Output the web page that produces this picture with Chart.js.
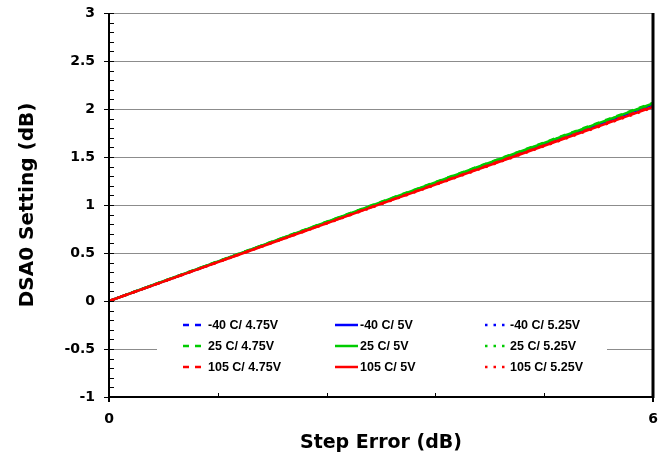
<!DOCTYPE html>
<html><head><meta charset="utf-8">
<script src="https://cdn.jsdelivr.net/npm/chart.js@4.4.1/dist/chart.umd.min.js"></script>
<style>html,body{margin:0;padding:0;background:#fff;}#wrap{width:669px;height:459px;}</style>
</head><body><div id="wrap"><canvas id="c" width="669" height="459"></canvas></div>
<script>
// ---- data ----
const stepError = [0, 0.5, 1, 1.5, 2, 2.5, 3, 3.5, 4, 4.5, 5, 5.5, 6];
const m40_475 = [0, 0.171, 0.341, 0.512, 0.682, 0.853, 1.024, 1.194, 1.365, 1.535, 1.706, 1.877, 2.047];
const m40_500 = [0, 0.170, 0.340, 0.511, 0.681, 0.852, 1.022, 1.192, 1.363, 1.533, 1.703, 1.874, 2.044];
const m40_525 = [0, 0.170, 0.340, 0.510, 0.680, 0.850, 1.020, 1.190, 1.360, 1.530, 1.700, 1.870, 2.040];
const p25_475 = [0, 0.172, 0.344, 0.516, 0.688, 0.860, 1.032, 1.204, 1.376, 1.548, 1.720, 1.892, 2.064];
const p25_500 = [0, 0.172, 0.343, 0.515, 0.686, 0.858, 1.029, 1.201, 1.372, 1.544, 1.715, 1.887, 2.058];
const p25_525 = [0, 0.171, 0.342, 0.514, 0.685, 0.856, 1.027, 1.198, 1.369, 1.541, 1.712, 1.883, 2.054];
const p105_475 = [0, 0.169, 0.338, 0.507, 0.676, 0.845, 1.014, 1.183, 1.352, 1.521, 1.690, 1.859, 2.028];
const p105_500 = [0, 0.168, 0.337, 0.505, 0.674, 0.842, 1.011, 1.179, 1.348, 1.516, 1.685, 1.853, 2.022];
const p105_525 = [0, 0.168, 0.336, 0.504, 0.672, 0.840, 1.008, 1.176, 1.344, 1.512, 1.680, 1.848, 2.016];
const seriesLabels = ['-40 C/ 4.75V', '-40 C/ 5V', '-40 C/ 5.25V',
                      '25 C/ 4.75V', '25 C/ 5V', '25 C/ 5.25V',
                      '105 C/ 4.75V', '105 C/ 5V', '105 C/ 5.25V'];
const xMajorTicks = [0, 6];
const xMinorTicks = [1.2, 2.4, 3.6, 4.8];
const yTickLabels = ['-1', '-0.5', '0', '0.5', '1', '1.5', '2', '2.5', '3'];
const yMinorStep = 0.1;
const xTitle = 'Step Error (dB)';
const yTitle = 'DSA0 Setting (dB)';

// ---- styles ----
const BLUE = '#0000FF', GREEN = '#00CC00', RED = '#FF0000';
const DASH = [6, 6], SOLID = [], DOT = [2.5, 6];
const seriesValues = [m40_475, m40_500, m40_525, p25_475, p25_500, p25_525, p105_475, p105_500, p105_525];
const seriesColors = [BLUE, BLUE, BLUE, GREEN, GREEN, GREEN, RED, RED, RED];
const seriesDash = [DASH, SOLID, DOT, DASH, SOLID, DOT, DASH, SOLID, DOT];
const drawOrder = [8, 7, 9, 5, 4, 6, 2, 1, 3];

const datasets = seriesValues.map((vals, i) => ({
  label: seriesLabels[i],
  data: vals.map((v, j) => ({x: stepError[j], y: v})),
  borderColor: seriesColors[i],
  backgroundColor: seriesColors[i],
  borderDash: seriesDash[i],
  borderWidth: 2.5,
  pointRadius: 0,
  showLine: true,
  fill: false,
  tension: 0,
  order: drawOrder[i]
}));

const CA = {left: 109, right: 653, top: 13, bottom: 397};

const axesPlugin = {
  id: 'axesPlugin',
  afterDatasetsDraw(chart) {
    const ctx = chart.ctx, xs = chart.scales.x, ys = chart.scales.y, a = chart.chartArea;
    ctx.save();
    ctx.strokeStyle = '#000';
    ctx.setLineDash([]);
    ctx.lineWidth = 2;
    ctx.beginPath();
    ctx.moveTo(a.left, a.top); ctx.lineTo(a.left, a.bottom + 1);
    ctx.moveTo(a.left - 1, a.bottom); ctx.lineTo(a.right, a.bottom);
    ctx.stroke();
    ctx.lineWidth = 3;
    ctx.beginPath();
    ctx.moveTo(a.right, a.top); ctx.lineTo(a.right, a.bottom + 1);
    ctx.stroke();
    ctx.lineWidth = 1;
    ctx.beginPath();
    for (let k = 0; k <= Math.round((ys.max - ys.min) / yMinorStep); k++) {
      const v = ys.min + k * yMinorStep;
      const py = Math.round(ys.getPixelForValue(v)) + 0.5;
      const major = k % 5 === 0;
      ctx.moveTo(a.left - (major ? 5 : 0), py);
      ctx.lineTo(a.left + 5, py);
    }
    ctx.stroke();
    ctx.beginPath();
    xMinorTicks.forEach(v => {
      const px = Math.round(xs.getPixelForValue(v)) + 0.5;
      ctx.moveTo(px, a.bottom - 4); ctx.lineTo(px, a.bottom);
    });
    ctx.stroke();
    ctx.lineWidth = 2;
    ctx.beginPath();
    xMajorTicks.forEach(v => {
      const px = Math.round(xs.getPixelForValue(v));
      ctx.moveTo(px, a.bottom - 4); ctx.lineTo(px, a.bottom + 5);
    });
    ctx.stroke();
    ctx.restore();
  }
};

const legendPlugin = {
  id: 'boxLegend',
  afterDraw(chart) {
    const ctx = chart.ctx;
    ctx.save();
    ctx.fillStyle = '#fff';
    ctx.fillRect(157, 309, 450, 70);
    const colX = [183, 335, 485];
    const rowY = [325, 346, 367];
    ctx.font = 'bold 12.5px "Liberation Sans", Arial, sans-serif';
    ctx.textBaseline = 'middle';
    ctx.textAlign = 'left';
    chart.data.datasets.forEach((ds, i) => {
      const c = i % 3, r = Math.floor(i / 3);
      const x = colX[c], y = rowY[r];
      ctx.strokeStyle = ds.borderColor;
      ctx.lineWidth = 2.5;
      ctx.setLineDash(ds.borderDash);
      ctx.beginPath();
      ctx.moveTo(x, y); ctx.lineTo(x + 23, y);
      ctx.stroke();
      ctx.setLineDash([]);
      ctx.fillStyle = '#000';
      ctx.fillText(ds.label, x + 25, y + 1);
    });
    ctx.restore();
  }
};

new Chart(document.getElementById('c'), {
  type: 'scatter',
  data: {datasets},
  options: {
    responsive: false,
    devicePixelRatio: 1,
    animation: false,
    layout: {padding: {left: 0, right: 669 - CA.right, top: CA.top, bottom: 0}},
    plugins: {legend: {display: false}, tooltip: {enabled: false}},
    scales: {
      x: {
        type: 'linear', min: 0, max: 6,
        afterBuildTicks: s => { s.ticks = xMajorTicks.map(v => ({value: v})); },
        afterFit: s => { s.height = 459 - CA.bottom; s.paddingLeft = 0; s.paddingRight = 0; },
        grid: {display: false, drawTicks: false},
        border: {display: false},
        ticks: {color: '#000', padding: 14, font: {family: 'DejaVu Sans', size: 14, weight: 'bold'}, maxRotation: 0},
        title: {display: true, text: xTitle, color: '#000', padding: {top: 0, bottom: 5},
                font: {family: 'DejaVu Sans', size: 19, weight: 'bold'}}
      },
      y: {
        type: 'linear', min: -1, max: 3,
        afterFit: s => { s.width = CA.left; s.paddingTop = 0; s.paddingBottom = 0; },
        grid: {color: '#8c8c8c', lineWidth: 1, drawTicks: false},
        border: {display: false},
        ticks: {stepSize: 0.5, color: '#000', padding: 14,
                callback: (v, i) => yTickLabels[i],
                font: {family: 'DejaVu Sans', size: 14, weight: 'bold'}},
        title: {display: true, text: yTitle, color: '#000', padding: {top: 16, bottom: 0},
                font: {family: 'DejaVu Sans', size: 20, weight: 'bold'}}
      }
    }
  },
  plugins: [axesPlugin, legendPlugin]
});
</script></body></html>
